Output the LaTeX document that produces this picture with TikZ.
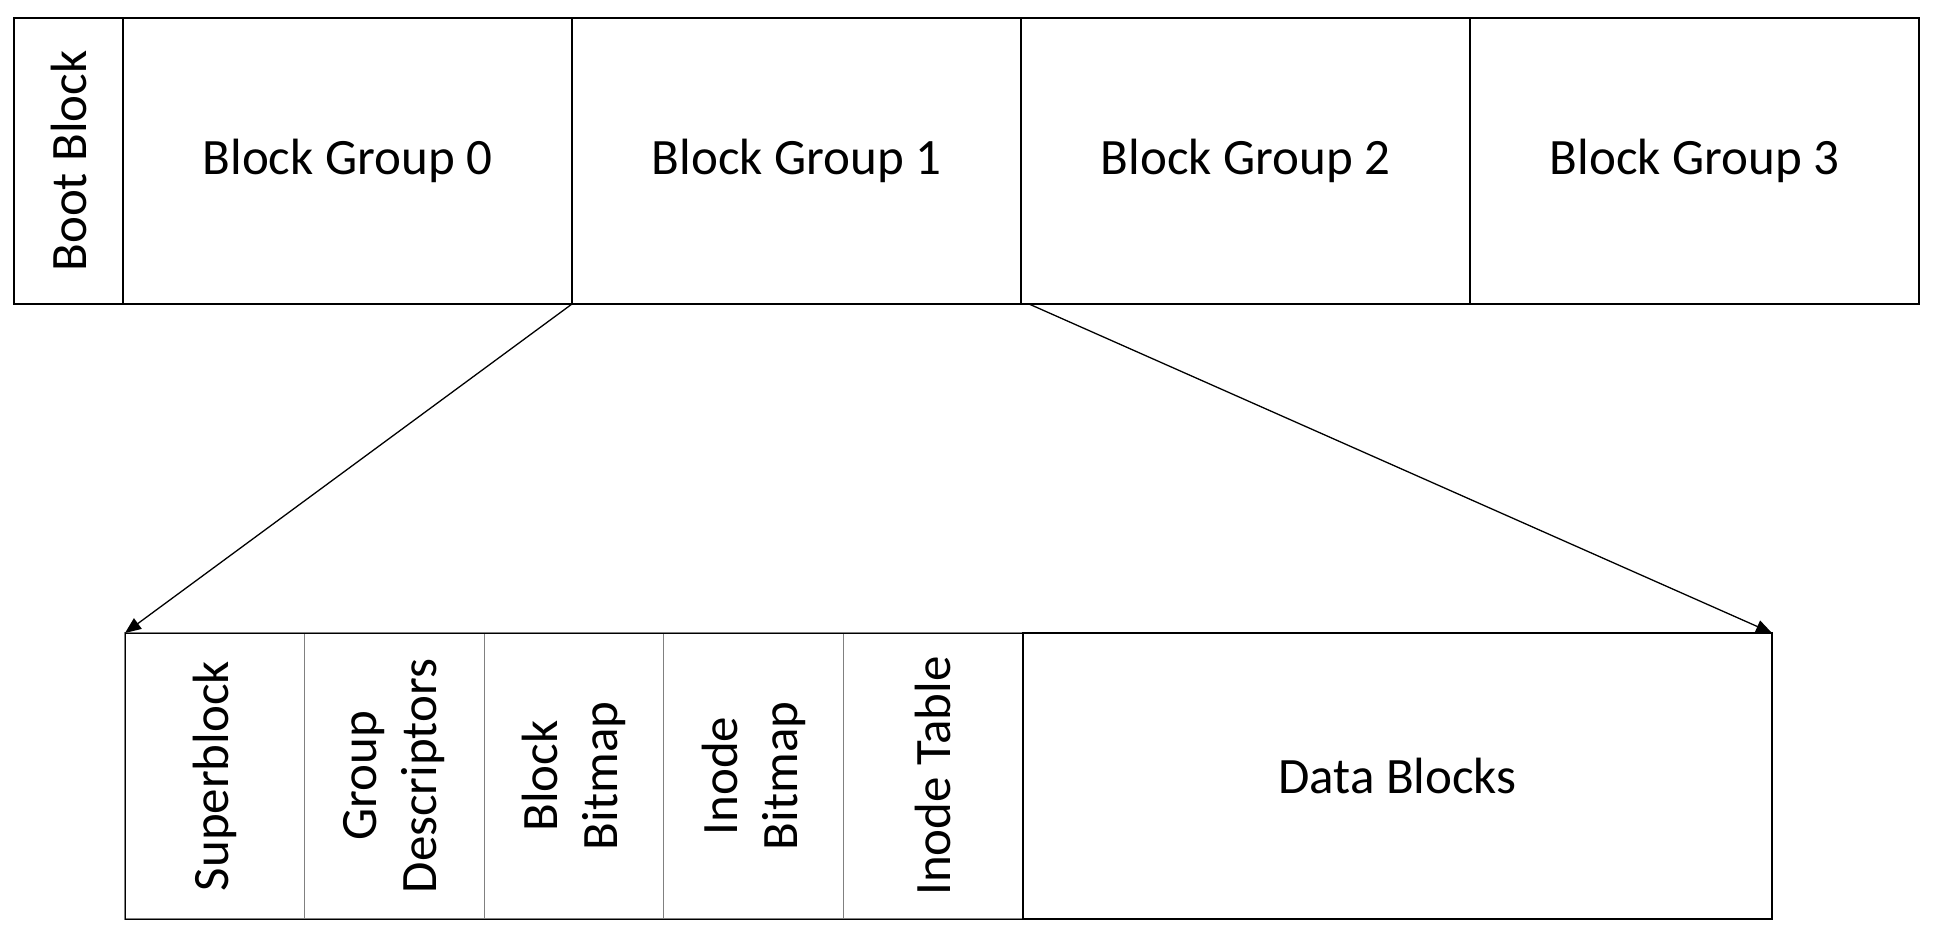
\documentclass[tikz,border=0pt]{standalone}
\usepackage{fontspec}
\setmainfont{Carlito}
\usetikzlibrary{arrows.meta}
\usetikzlibrary{positioning}

\begin{document}
\begin{tikzpicture}[
    x=1pt, y=-1pt,
    every node/.style={font=\fontsize{51}{60}\selectfont},
    blk/.style={rectangle, draw, line width=2pt, outer sep=0pt, inner sep=0pt, minimum height=286pt},
    grp/.style={blk, minimum width=449pt},
    part/.style={rectangle, draw=gray, line width=1.3pt, outer sep=0pt, inner sep=0pt,
      minimum width=179.6pt, minimum height=286pt},
    vlabel/.style={rotate=90, align=center},
    link/.style={line width=1.3pt, -{Triangle[length=16pt, width=13pt]}},
  ]
  \useasboundingbox (0,0) rectangle (1936,936);

  % disk layout
  \node[blk, minimum width=109pt, anchor=north west,
    label={[vlabel]center:Boot Block}] (boot) at (14,18) {};
  \node[grp, right=0pt of boot] (g0) {Block Group 0};
  \node[grp, right=0pt of g0]   (g1) {Block Group 1};
  \node[grp, right=0pt of g1]   (g2) {Block Group 2};
  \node[grp, right=0pt of g2]   (g3) {Block Group 3};

  % one block group
  \node[part, anchor=north west, label={[vlabel]center:Superblock}] (sb) at (125,633) {};
  \node[part, right=0pt of sb, label={[vlabel]center:Group\\Descriptors}] (gd) {};
  \node[part, right=0pt of gd, label={[vlabel]center:Block\\Bitmap}]      (bb) {};
  \node[part, right=0pt of bb, label={[vlabel]center:Inode\\Bitmap}]      (ib) {};
  \node[part, right=0pt of ib, label={[vlabel]center:Inode Table}]        (it) {};
  \node[rectangle, draw, line width=1.3pt, inner sep=0pt, anchor=north west,
    minimum width=898pt, minimum height=286pt] (meta) at (125,633) {};
  \node[blk, line width=2.5pt, minimum width=749pt, right=0pt of it] (data) {Data Blocks};

  \draw[link] (g1.south west) -- (meta.north west);
  \draw[link] ([xshift=8pt]g2.south west) -- (data.north east);

\end{tikzpicture}
\end{document}
